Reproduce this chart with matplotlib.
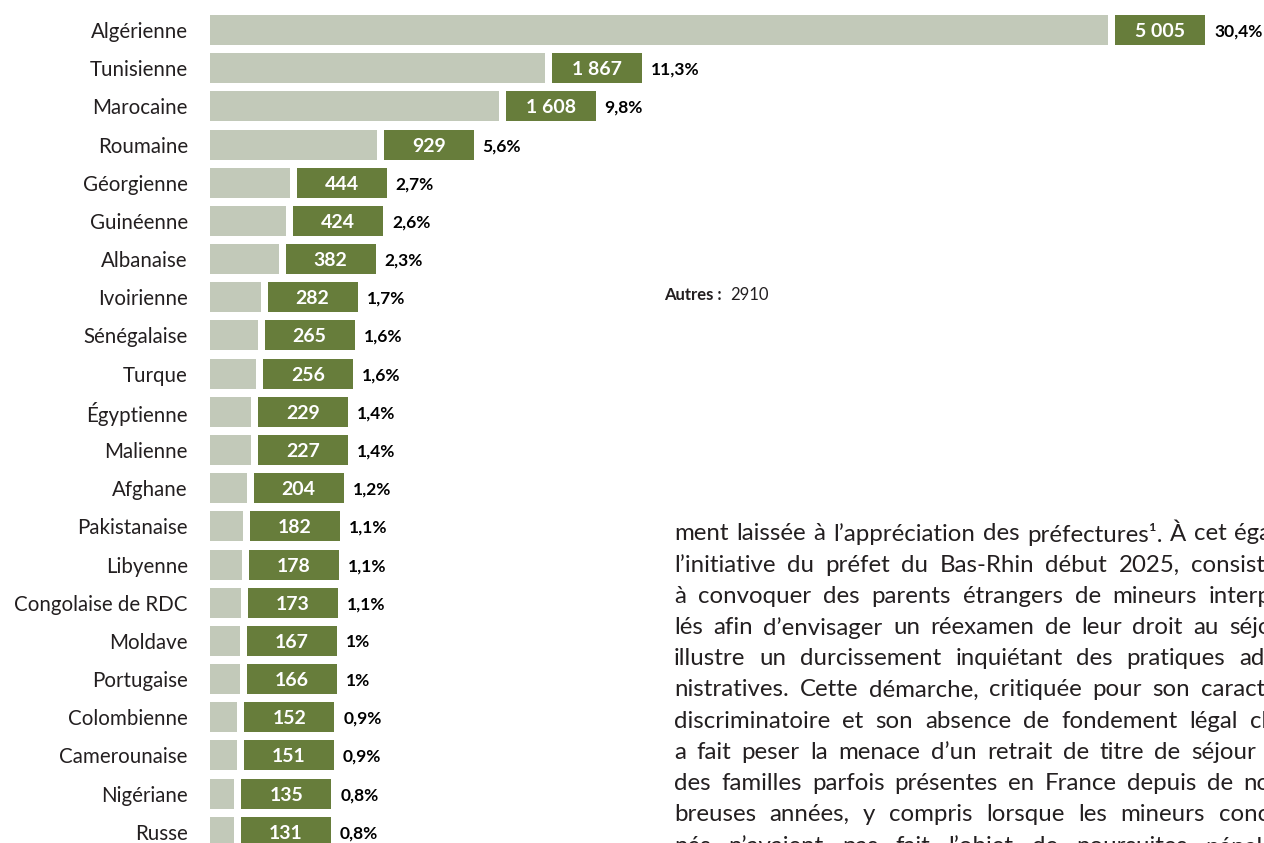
import matplotlib
matplotlib.use("Agg")
import matplotlib.pyplot as plt

nationalites = ["Algérienne", "Tunisienne", "Marocaine", "Roumaine", "Géorgienne",
                "Guinéenne", "Albanaise", "Ivoirienne", "Sénégalaise", "Turque",
                "Égyptienne", "Malienne", "Afghane", "Pakistanaise", "Libyenne",
                "Congolaise de RDC", "Moldave", "Portugaise", "Colombienne",
                "Camerounaise", "Nigériane", "Russe"]
effectifs = [5005, 1867, 1608, 929, 444, 424, 382, 282, 265, 256, 229, 227, 204,
             182, 178, 173, 167, 166, 152, 151, 135, 131]
parts = ["30,4%", "11,3%", "9,8%", "5,6%", "2,7%", "2,6%", "2,3%", "1,7%", "1,6%",
         "1,6%", "1,4%", "1,4%", "1,2%", "1,1%", "1,1%", "1,1%", "1%", "1%", "0,9%",
         "0,9%", "0,8%", "0,8%"]
autres = 2910

texte = [
    "ment laissée à l’appréciation des préfectures¹. À cet égard,",
    "l’initiative du préfet du Bas-Rhin début 2025, consistant",
    "à convoquer des parents étrangers de mineurs interpel-",
    "lés afin d’envisager un réexamen de leur droit au séjour,",
    "illustre un durcissement inquiétant des pratiques admi-",
    "nistratives. Cette démarche, critiquée pour son caractère",
    "discriminatoire et son absence de fondement légal clair,",
    "a fait peser la menace d’un retrait de titre de séjour sur",
    "des familles parfois présentes en France depuis de nom-",
    "breuses années, y compris lorsque les mineurs concer-",
    "nés n’avaient pas fait l’objet de poursuites pénales².",
]

GRIS = "#c2c9b9"
VERT = "#677d3b"
NOIR = "#231f20"
W, H = 1264, 843
plt.rcParams["font.family"] = ["Lato", "DejaVu Sans"]

fig = plt.figure(figsize=(W / 100, H / 100), dpi=100)
x0 = 210
ax = fig.add_axes([x0 / W, 0, 1 - x0 / W, 1])

px = 898 / 5005            # pixels per unit
row = 38.18                # row pitch in pixels
ax.set_xlim(0, (W - x0) / px)
ax.set_ylim((H - 30) / row, -30 / row)

gap = 7 / px
boite = 90 / px
h = 30 / row
y = list(range(len(nationalites)))

ax.barh(y, effectifs, height=h, color=GRIS)
gauches = [v + gap for v in effectifs]
ax.barh(y, [boite] * len(y), left=gauches, height=h, color=VERT)

for i, (v, p) in enumerate(zip(effectifs, parts)):
    lab = f"{v:,}".replace(",", " ")
    ax.text(v + gap + boite / 2, i, lab, ha="center", va="center_baseline",
            color="white", fontsize=14, fontweight="bold")
    ax.text(v + gap + boite + 9 / px, i, p, ha="left", va="center_baseline",
            color="black", fontsize=12.5, fontweight="bold")

ax.set_yticks(y, nationalites)
ax.tick_params(axis="y", length=0, pad=16, labelsize=14.8, labelcolor=NOIR)
ax.set_xticks([])
for s in ax.spines.values():
    s.set_visible(False)

fig.text(664 / W, 1 - 293 / H, "Autres :", fontsize=12, fontweight="bold",
         color=NOIR, va="center_baseline")
fig.text(730 / W, 1 - 293 / H, str(autres), fontsize=12, color=NOIR,
         va="center_baseline")

# justified paragraph of the page (its column runs past the right edge)
rend = fig.canvas.get_renderer()
col_x, col_w = 674, 625
for k, ligne in enumerate(texte):
    yy = 1 - (532 + 31.2 * k) / H
    mots = ligne.split(" ")
    objs = [fig.text(0, yy, m, fontsize=17.3, color=NOIR, va="center_baseline")
            for m in mots]
    larg = [t.get_window_extent(rend).width for t in objs]
    esp = (col_w - sum(larg)) / (len(mots) - 1)
    x = col_x
    for t, w in zip(objs, larg):
        t.set_x(x / W)
        x += w + esp

fig.savefig("out.png", dpi=100)
